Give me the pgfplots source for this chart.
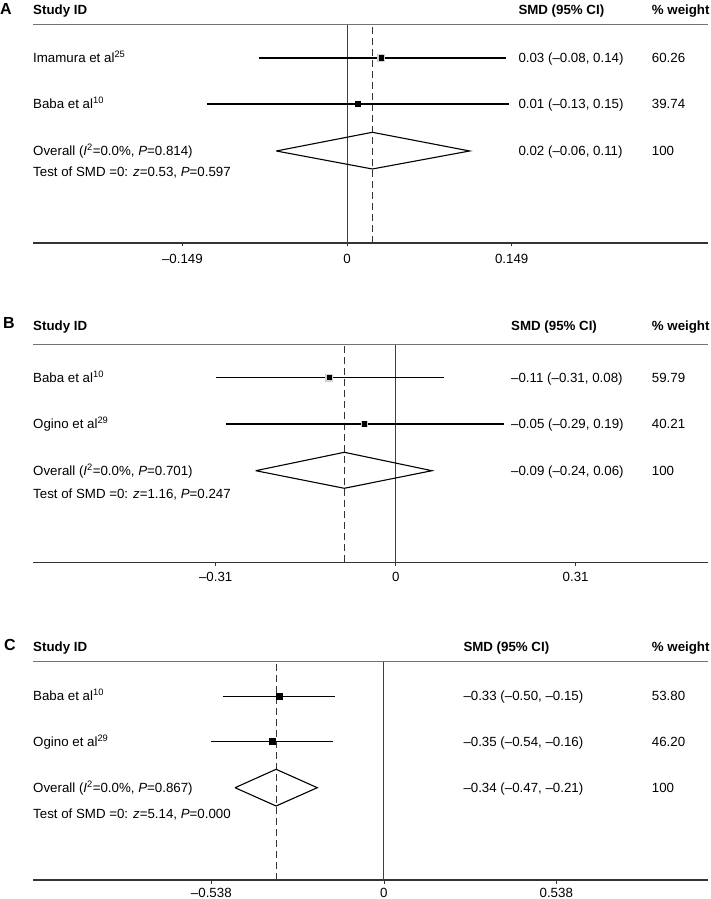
\documentclass[border=0pt]{standalone}
\usepackage{fontspec}
\setmainfont{Liberation Sans}
\usepackage{pgfplots}
\pgfplotsset{compat=1.18}
\pgfplotsset{forest/.style={scale only axis, width=675pt, clip=false,
  axis y line=none, axis x line*=bottom,
  x axis line style={-, line width=1.1pt, black!80},
  tick align=outside, major tick length=3.5pt,
  xtick style={black!80, line width=0.6pt},
  xticklabel style={font=\fontsize{13.3}{15}\selectfont, anchor=base, inner sep=0pt},
  ymin=0},
  ci/.style={black, line width=1.2pt},
  zl/.style={black!75, line width=0.7pt},
  dl/.style={black!80, line width=0.7pt, dash pattern=on 7pt off 4pt},
  dia/.style={black, line width=1.1pt, line join=miter},
  gbox/.style={only marks, mark=square*, color=black!18, mark options={draw=black!18, fill=black!18, line width=0pt}},
  bbox/.style={only marks, mark=square*, color=black, mark options={draw=black, fill=black, line width=0pt}}
}
\newcommand{\hd}[1]{\textbf{#1}}
\begin{document}
\fontsize{13.3}{15}\selectfont
\begin{tikzpicture}[x=1pt,y=1pt]
\useasboundingbox (0,0) rectangle (710,899);
% ---------------- Panel A ----------------
\begin{axis}[forest, at={(33pt,656pt)}, anchor=south west, height=218.7pt, ymax=218.7,
  xticklabel style={yshift=-17.0pt},
  xmin=-0.2842, xmax=0.3267, xtick={-0.149,0,0.149}, xticklabels={--0.149,0,0.149}]
\addplot[zl] coordinates {(0,0) (0,218.7)};
\addplot[dl] coordinates {(0.0229,0) (0.0229,218.7)};
\draw[black!55, line width=0.9pt] (rel axis cs:0,1) -- (rel axis cs:1,1);
\addplot[ci] coordinates {(-0.080,185) (0.144,185)};
\addplot[ci] coordinates {(-0.127,139) (0.147,139)};
\addplot[gbox, mark size=3.6pt] coordinates {(0.031,185)};
\addplot[gbox, mark size=2.8pt] coordinates {(0.010,139)};
\addplot[bbox, mark size=2.1pt] coordinates {(0.031,185) (0.010,139)};
\addplot[dia] coordinates {(-0.064,92) (0.0229,110.7) (0.111,92) (0.0229,74) (-0.064,92)};
\end{axis}
\node[anchor=base west, inner sep=0] at (0,884) {\fontsize{16}{19}\selectfont\bfseries A};
\node[anchor=base west, inner sep=0] at (33,884) {\hd{Study ID}};
\node[anchor=base west, inner sep=0] at (518.3,884) {\hd{SMD (95\% CI)}};
\node[anchor=base west, inner sep=0] at (651.7,884) {\hd{\% weight}};
\node[anchor=base west, inner sep=0] at (33,836) {Imamura et al\textsuperscript{25}};
\node[anchor=base west, inner sep=0] at (33,790) {Baba et al\textsuperscript{10}};
\node[anchor=base west, inner sep=0] at (33,743.3) {Overall (\textit{I}\textsuperscript{2}=0.0\%, \textit{P}=0.814)};
\node[anchor=base west, inner sep=0] at (33,722.5) {Test of SMD =0: \textit{z}=0.53, \textit{P}=0.597};
\node[anchor=base west, inner sep=0] at (518.3,836) {0.03 (--0.08, 0.14)};
\node[anchor=base west, inner sep=0] at (518.3,790) {0.01 (--0.13, 0.15)};
\node[anchor=base west, inner sep=0] at (518.3,743.3) {0.02 (--0.06, 0.11)};
\node[anchor=base west, inner sep=0] at (651.7,836) {60.26};
\node[anchor=base west, inner sep=0] at (651.7,790) {39.74};
\node[anchor=base west, inner sep=0] at (651.7,743.3) {100};
% ---------------- Panel B ----------------
\begin{axis}[forest, at={(33pt,336.7pt)}, anchor=south west, height=218.3pt, ymax=218.3,
  xticklabel style={yshift=-16.1pt},
  xmin=-0.6247, xmax=0.5379, xtick={-0.31,0,0.31}, xticklabels={--0.31,0,0.31}]
\addplot[zl] coordinates {(0,0) (0,218.3)};
\addplot[dl] coordinates {(-0.0885,0) (-0.0885,218.3)};
\draw[black!55, line width=0.9pt] (rel axis cs:0,1) -- (rel axis cs:1,1);
\addplot[ci] coordinates {(-0.310,184.6) (0.0827,184.6)};
\addplot[ci] coordinates {(-0.2918,138.3) (0.1865,138.3)};
\addplot[gbox, mark size=3.6pt] coordinates {(-0.1144,184.6)};
\addplot[gbox, mark size=2.8pt] coordinates {(-0.0541,138.3)};
\addplot[bbox, mark size=2.1pt] coordinates {(-0.1144,184.6) (-0.0541,138.3)};
\addplot[dia] coordinates {(-0.2411,91.6) (-0.0885,110) (0.0625,91.6) (-0.0885,74) (-0.2411,91.6)};
\end{axis}
\node[anchor=base west, inner sep=0] at (3,570) {\fontsize{16}{19}\selectfont\bfseries B};
\node[anchor=base west, inner sep=0] at (33,568.3) {\hd{Study ID}};
\node[anchor=base west, inner sep=0] at (511,568.3) {\hd{SMD (95\% CI)}};
\node[anchor=base west, inner sep=0] at (651.7,568.3) {\hd{\% weight}};
\node[anchor=base west, inner sep=0] at (33,516.5) {Baba et al\textsuperscript{10}};
\node[anchor=base west, inner sep=0] at (33,470.3) {Ogino et al\textsuperscript{29}};
\node[anchor=base west, inner sep=0] at (33,423.6) {Overall (\textit{I}\textsuperscript{2}=0.0\%, \textit{P}=0.701)};
\node[anchor=base west, inner sep=0] at (33,400) {Test of SMD =0: \textit{z}=1.16, \textit{P}=0.247};
\node[anchor=base west, inner sep=0] at (511,516.5) {--0.11 (--0.31, 0.08)};
\node[anchor=base west, inner sep=0] at (511,470.3) {--0.05 (--0.29, 0.19)};
\node[anchor=base west, inner sep=0] at (511,423.6) {--0.09 (--0.24, 0.06)};
\node[anchor=base west, inner sep=0] at (651.7,516.5) {59.79};
\node[anchor=base west, inner sep=0] at (651.7,470.3) {40.21};
\node[anchor=base west, inner sep=0] at (651.7,423.6) {100};
% ---------------- Panel C ----------------
\begin{axis}[forest, at={(33pt,19pt)}, anchor=south west, height=218.3pt, ymax=218.3,
  xticklabel style={yshift=-13.8pt},
  xmin=-1.0942, xmax=1.0112, xtick={-0.538,0,0.538}, xticklabels={--0.538,0,0.538}]
\addplot[zl] coordinates {(0,0) (0,218.3)};
\addplot[dl] coordinates {(-0.336,0) (-0.336,218.3)};
\draw[black!55, line width=0.9pt] (rel axis cs:0,1) -- (rel axis cs:1,1);
\addplot[ci] coordinates {(-0.5025,183.7) (-0.1522,183.7)};
\addplot[ci] coordinates {(-0.538,138.3) (-0.159,138.3)};
\addplot[bbox, mark size=3pt] coordinates {(-0.326,183.7) (-0.3487,138.3)};
\addplot[dia] coordinates {(-0.464,92.3) (-0.336,110.7) (-0.2074,92.3) (-0.336,74) (-0.464,92.3)};
\end{axis}
\node[anchor=base west, inner sep=0] at (4,248) {\fontsize{16}{19}\selectfont\bfseries C};
\node[anchor=base west, inner sep=0] at (33,247.5) {\hd{Study ID}};
\node[anchor=base west, inner sep=0] at (463.3,247.5) {\hd{SMD (95\% CI)}};
\node[anchor=base west, inner sep=0] at (651.7,247.5) {\hd{\% weight}};
\node[anchor=base west, inner sep=0] at (33,198) {Baba et al\textsuperscript{10}};
\node[anchor=base west, inner sep=0] at (33,152.6) {Ogino et al\textsuperscript{29}};
\node[anchor=base west, inner sep=0] at (33,106.6) {Overall (\textit{I}\textsuperscript{2}=0.0\%, \textit{P}=0.867)};
\node[anchor=base west, inner sep=0] at (33,80) {Test of SMD =0: \textit{z}=5.14, \textit{P}=0.000};
\node[anchor=base west, inner sep=0] at (463.3,198) {--0.33 (--0.50, --0.15)};
\node[anchor=base west, inner sep=0] at (463.3,152.6) {--0.35 (--0.54, --0.16)};
\node[anchor=base west, inner sep=0] at (463.3,106.6) {--0.34 (--0.47, --0.21)};
\node[anchor=base west, inner sep=0] at (651.7,198) {53.80};
\node[anchor=base west, inner sep=0] at (651.7,152.6) {46.20};
\node[anchor=base west, inner sep=0] at (651.7,106.6) {100};
\end{tikzpicture}
\end{document}
